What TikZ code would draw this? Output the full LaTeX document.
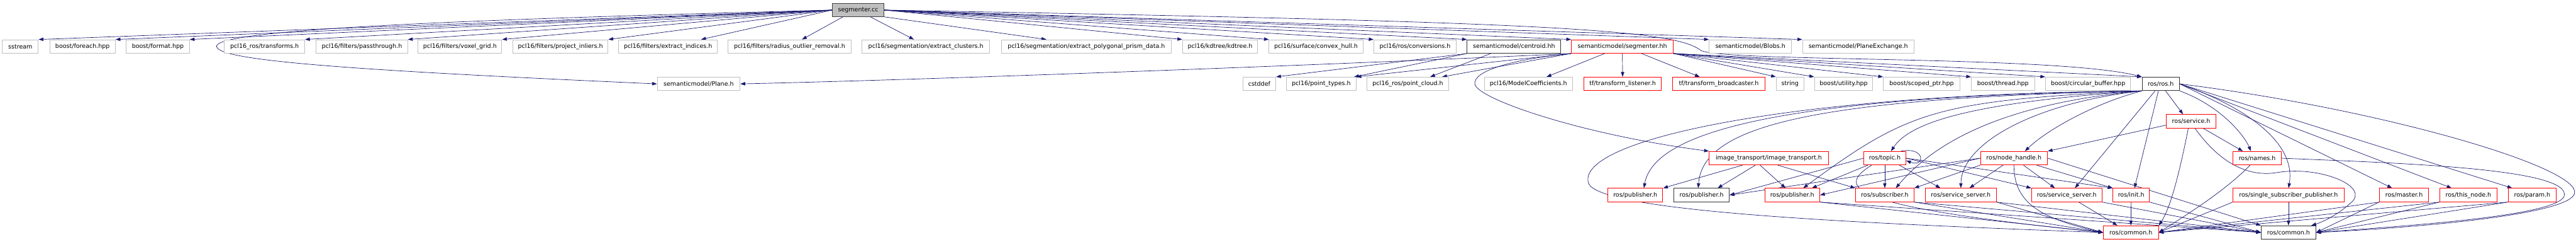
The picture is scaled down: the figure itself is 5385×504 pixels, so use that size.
\documentclass[tikz,border=0pt]{standalone}
\usepackage{fontspec}
\setmainfont{DejaVu Sans}
\usetikzlibrary{arrows.meta, calc, backgrounds}
\definecolor{edgeblue}{HTML}{191970}
\definecolor{nodocgrey}{HTML}{BFBFBF}
\definecolor{mainfill}{HTML}{BFBFBF}

\begin{document}
\begin{tikzpicture}[
    x=1pt, y=-1pt,
    hdr/.style={draw, fill=white, rectangle, minimum height=28pt, inner sep=0pt, line width=1.3pt, font=\fontsize{12.5}{15}\selectfont},
    nodoc/.style={hdr, draw=nodocgrey},
    linked/.style={hdr, draw=black!80},
    trunc/.style={hdr, draw=red},
    mainfile/.style={hdr, draw=black!75, fill=mainfill, minimum height=27pt},
    incl/.style={draw=edgeblue, line width=0.9pt, -{Triangle[length=10pt, width=7pt]}}
]
\useasboundingbox (0,0) rectangle (5385,504);

% Source file
\node[mainfile, minimum width=108pt] (segcc) at (1794,21) {segmenter.cc};

% Direct includes
\node[nodoc, minimum width=75pt]  (sstream)   at (42.5,97)  {sstream};
\node[nodoc, minimum width=137pt] (bforeach)  at (172.5,97) {boost/foreach.hpp};
\node[nodoc, minimum width=132pt] (bformat)   at (330,97)   {boost/format.hpp};
\node[nodoc, minimum width=168pt] (transf)    at (553,97)   {pcl16\_ros/transforms.h};
\node[nodoc, minimum width=191pt] (passthru)  at (756.5,97) {pcl16/filters/passthrough.h};
\node[nodoc, minimum width=175pt] (voxel)     at (961.5,97) {pcl16/filters/voxel\_grid.h};
\node[nodoc, minimum width=199pt] (projinl)   at (1171.5,97) {pcl16/filters/project\_inliers.h};
\node[nodoc, minimum width=207pt] (extrind)   at (1396.5,97) {pcl16/filters/extract\_indices.h};
\node[nodoc, minimum width=257pt] (radius)    at (1650.5,97) {pcl16/filters/radius\_outlier\_removal.h};
\node[nodoc, minimum width=267pt] (clusters)  at (1935.5,97) {pcl16/segmentation/extract\_clusters.h};
\node[nodoc, minimum width=356pt] (prism)     at (2271,97)  {pcl16/segmentation/extract\_polygonal\_prism\_data.h};
\node[nodoc, minimum width=157pt] (kdtree)    at (2550.5,97) {pcl16/kdtree/kdtree.h};
\node[nodoc, minimum width=196pt] (convex)    at (2751,97)  {pcl16/surface/convex\_hull.h};
\node[nodoc, minimum width=172pt] (conv)      at (2958,97)  {pcl16/ros/conversions.h};
\node[linked, minimum width=196pt] (centroid) at (3165,97)  {semanticmodel/centroid.hh};
\node[trunc, minimum width=213pt] (seghh)     at (3391.5,97) {semanticmodel/segmenter.hh};
\node[nodoc, minimum width=172pt] (blobs)     at (3659,97)  {semanticmodel/Blobs.h};
\node[nodoc, minimum width=233pt] (planeex)   at (3884.5,97) {semanticmodel/PlaneExchange.h};

% Second level
\node[nodoc, minimum width=173pt] (plane)      at (1460.5,175) {semanticmodel/Plane.h};
\node[nodoc, minimum width=69pt]  (cstddef)    at (2632.5,175) {cstddef};
\node[nodoc, minimum width=146pt] (pointtypes) at (2762,175)   {pcl16/point\_types.h};
\node[nodoc, minimum width=172pt] (pointcloud) at (2943,175)   {pcl16\_ros/point\_cloud.h};
\node[nodoc, minimum width=184pt] (modelcoef)  at (3195,175)   {pcl16/ModelCoefficients.h};
\node[trunc, minimum width=162pt] (tflisten)   at (3392,175)   {tf/transform\_listener.h};
\node[trunc, minimum width=192pt] (tfbroad)    at (3593,175)   {tf/transform\_broadcaster.h};
\node[nodoc, minimum width=58pt]  (str)        at (3742,175)   {string};
\node[nodoc, minimum width=122pt] (utility)    at (3854,175)   {boost/utility.hpp};
\node[nodoc, minimum width=160pt] (scopedptr)  at (4017,175)   {boost/scoped\_ptr.hpp};
\node[nodoc, minimum width=132pt] (thread)     at (4187,175)   {boost/thread.hpp};
\node[nodoc, minimum width=178pt] (circbuf)    at (4365,175)   {boost/circular\_buffer.hpp};
\node[linked, minimum width=78pt] (ros)        at (4517,175)   {ros/ros.h};

% ROS headers
\node[trunc, minimum width=103pt] (service)   at (4580.5,253) {ros/service.h};
\node[trunc, minimum width=249pt] (imgtrans)  at (3697.5,330) {image\_transport/image\_transport.h};
\node[trunc, minimum width=88pt]  (topic)     at (3940,330)   {ros/topic.h};
\node[trunc, minimum width=140pt] (nodeh)     at (4210,330)   {ros/node\_handle.h};
\node[trunc, minimum width=101pt] (names)     at (4718.5,330) {ros/names.h};

\node[trunc, minimum width=115pt]  (pubA)      at (3418.5,407) {ros/publisher.h};
\node[linked, minimum width=116pt] (pubB)      at (3557,407)   {ros/publisher.h};
\node[trunc, minimum width=115pt]  (pubC)      at (3746.5,407) {ros/publisher.h};
\node[trunc, minimum width=122pt]  (subscr)    at (3940,407)   {ros/subscriber.h};
\node[trunc, minimum width=148pt]  (ssA)       at (4099,407)   {ros/service\_server.h};
\node[trunc, minimum width=147pt]  (ssB)       at (4320.5,407) {ros/service\_server.h};
\node[trunc, minimum width=76pt]   (init)      at (4455,407)   {ros/init.h};
\node[trunc, minimum width=232pt]  (singlesub) at (4784,407)   {ros/single\_subscriber\_publisher.h};
\node[trunc, minimum width=103pt]  (master)    at (5025.5,407) {ros/master.h};
\node[trunc, minimum width=120pt]  (thisnode)  at (5160,407)   {ros/this\_node.h};
\node[trunc, minimum width=101pt]  (param)     at (5293.5,407) {ros/param.h};

\node[trunc, minimum width=115pt]  (commonA)   at (4454.5,485) {ros/common.h};
\node[linked, minimum width=114pt] (commonB)   at (4784,485)   {ros/common.h};

\begin{scope}[on background layer]
% segmenter.cc includes
\foreach \t in {sstream,bforeach,bformat,transf,passthru,voxel,projinl}
    \draw[incl] (segcc.west) -- (\t.north east);
\draw[incl] (segcc.west) -- ($(extrind.north east)+(-35,0)$);
\draw[incl] ($(segcc.south west)+(23,0)$) -- ($(radius.north)+(26,0)$);
\draw[incl] ($(segcc.south west)+(80,0)$) -- ($(clusters.north)+(-25,0)$);
\draw[incl] (segcc.south east) -- ($(prism.north west)+(95,0)$);
\foreach \t in {kdtree,convex,conv,centroid,seghh,blobs,planeex}
    \draw[incl] (segcc.east) -- (\t.north west);
\draw[incl] (segcc.west) .. controls (1000,40) and (470,60) .. (453,95)
    .. controls (445,125) and (700,145) .. (plane.west);
\draw[incl] (segcc.east) .. controls (3200,45) and (3500,60) .. (3555,105)
    .. controls (3600,130) and (4300,115) .. (ros.north west);

% centroid.hh and segmenter.hh
\draw[incl] (centroid.south west) -- (cstddef.north east);
\draw[incl] (centroid.south west) -- ($(pointtypes.north east)+(-5,0)$);
\draw[incl] ($(centroid.south west)+(50,0)$) -- ($(pointcloud.north east)+(-40,0)$);
\draw[incl] (seghh.south west) -- (pointtypes.north east);
\draw[incl] (seghh.south west) -- ($(pointcloud.north east)+(-15,0)$);
\draw[incl] ($(seghh.south west)+(70,0)$) -- ($(modelcoef.north)+(38,0)$);
\draw[incl] (seghh.south) -- (tflisten.north);
\draw[incl] ($(seghh.south)+(40,0)$) -- ($(tfbroad.north)+(-40,0)$);
\draw[incl] (seghh.south west) .. controls (2900,130) and (2000,165) .. (plane.east);
\draw[incl] (seghh.south west) .. controls (3150,125) and (3080,150) .. (3083,175)
    .. controls (3086,205) and (3300,280) .. (imgtrans.north west);
\foreach \t in {str,utility,scopedptr,thread,circbuf,ros}
    \draw[incl] (seghh.south east) -- (\t.north west);

% ros/ros.h
\draw[incl] (ros.south west) .. controls (3750,195) and (3300,290) .. (3320,380)
    .. controls (3330,440) and (3850,465) .. (commonA.west);
\draw[incl] (ros.south west) .. controls (3800,200) and (3460,260) .. ($(pubA.north)+(18,0)$);
\draw[incl] (ros.south west) .. controls (3800,205) and (3560,260) .. ($(pubB.north)+(-7,0)$);
\draw[incl] (ros.south west) .. controls (4050,210) and (3990,230) .. ($(pubC.north)+(23,0)$);
\draw[incl] (ros.south west) .. controls (4100,215) and (3990,260) .. ($(topic.north)+(13,0)$);
\draw[incl] (ros.south west) .. controls (4200,215) and (4050,290) .. ($(subscr.north)+(23,0)$);
\draw[incl] (ros.south west) .. controls (4250,215) and (4100,300) .. (ssA.north);
\draw[incl] (ros.south west) .. controls (4380,215) and (4280,270) .. ($(nodeh.north)+(23,0)$);
\draw[incl] ($(ros.south)+(-12,0)$) -- ($(ssB.north)+(17,0)$);
\draw[incl] ($(ros.south)+(-5,0)$) -- ($(init.north)+(7,0)$);
\draw[incl] ($(ros.south)+(10,0)$) -- ($(service.north)+(-17,0)$);
\draw[incl] (ros.south east) .. controls (4640,220) and (4690,280) .. ($(names.north)+(-13,0)$);
\draw[incl] (ros.east) .. controls (4700,225) and (4800,300) .. (singlesub.north);
\draw[incl] (ros.east) -- ($(master.north)+(-25,0)$);
\draw[incl] (ros.east) -- ($(thisnode.north)+(-35,0)$);
\draw[incl] (ros.east) -- ($(param.north)+(-42,0)$);
\draw[incl] (ros.east) .. controls (5000,230) and (5430,360) .. (5378,410)
    .. controls (5340,450) and (5050,475) .. (commonB.east);

% ros/service.h and ros/names.h
\draw[incl] ($(service.west)+(0,8)$) -- (nodeh.north east);
\draw[incl] ($(service.south)+(25,0)$) -- ($(names.north)+(-30,0)$);
\draw[incl] ($(service.south)+(-6,0)$) .. controls (4560,340) and (4540,430) .. (commonA.north east);
\draw[incl] ($(service.south)+(8,0)$) .. controls (4640,340) and (4700,370) .. (4760,360)
    .. controls (4850,345) and (4960,390) .. (4912,425)
    .. controls (4885,450) and (4850,465) .. ($(commonB.north east)+(-10,0)$);
\draw[incl] ($(names.south)+(-15,0)$) .. controls (4650,400) and (4560,455) .. (commonA.east);
\draw[incl] (names.east) .. controls (5000,340) and (5380,350) .. (5360,410)
    .. controls (5340,450) and (5050,470) .. (commonB.east);

% image_transport, topic, node_handle
\draw[incl] ($(imgtrans.south west)+(70,0)$) -- (pubA.north east);
\draw[incl] ($(imgtrans.south west)+(97,0)$) -- ($(pubB.north east)+(-25,0)$);
\draw[incl] ($(imgtrans.south west)+(107,0)$) -- ($(pubC.north)+(-14,0)$);
\draw[incl] ($(imgtrans.south west)+(144,0)$) -- (subscr.north west);
\draw[incl] ($(topic.north east)+(-11,0)$) .. controls (4025,305) and (4025,350) .. ($(topic.east)+(0,5)$);
\draw[incl] (topic.south) -- (subscr.north);
\draw[incl] ($(topic.south west)+(9,0)$) -- ($(pubC.north east)+(-17,0)$);
\draw[incl] (topic.west) -- (pubB.east);
\draw[incl] ($(topic.south east)+(-14,0)$) -- ($(ssA.north west)+(32,0)$);
\draw[incl] ($(topic.south west)+(17,0)$) .. controls (3840,390) and (3850,430) .. (commonA.west);
\draw[incl] (topic.east) -- (ssB.north west);
\draw[incl] (topic.east) -- (init.north west);
\draw[incl] ($(nodeh.south)+(-23,0)$) -- ($(ssA.north)+(18,0)$);
\draw[incl] ($(nodeh.south)+(20,0)$) -- ($(ssB.north)+(-25,0)$);
\draw[incl] ($(nodeh.south east)+(-23,0)$) -- (init.north west);
\draw[incl] (nodeh.south) .. controls (4210,420) and (4260,455) .. (commonA.west);
\draw[incl] (nodeh.south west) -- (subscr.north east);
\draw[incl] (nodeh.west) -- (pubC.east);
\draw[incl] (nodeh.west) -- (pubB.east);
\draw[incl] (nodeh.east) -- (commonB.north west);

% leaves to ros/common.h
\foreach \s in {pubC,subscr,ssA}
    \draw[incl] (\s.south east) -- (commonA.west);
\draw[incl] ($(ssB.south)+(25,0)$) -- ($(commonA.north west)+(30,0)$);
\draw[incl] (init.south) -- (commonA.north);
\foreach \s in {singlesub,master,thisnode,param}
    \draw[incl] (\s.south west) -- (commonA.east);
\foreach \s in {pubC,subscr,ssA,ssB,init}
    \draw[incl] (\s.south east) -- (commonB.west);
\draw[incl] (singlesub.south) -- (commonB.north);
\foreach \s in {master,thisnode,param}
    \draw[incl] (\s.south west) -- (commonB.east);
\end{scope}

\end{tikzpicture}
\end{document}
